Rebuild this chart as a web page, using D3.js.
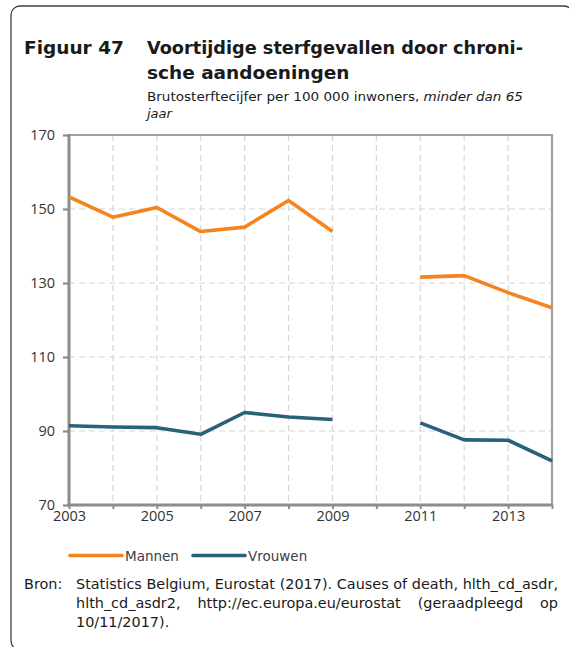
<!DOCTYPE html>
<html><head><meta charset="utf-8">
<script src="https://cdn.jsdelivr.net/npm/d3@7"></script>
<style>
html,body{margin:0;padding:0;background:#fff;}
svg{display:block;}
</style></head>
<body>
<svg id="c" width="569" height="647"></svg>
<script>
const years = [2003,2004,2005,2006,2007,2008,2009,2010,2011,2012,2013,2014];
const mannen = [153.3,147.8,150.4,143.9,145.1,152.3,143.9,null,131.6,132.0,127.4,123.3];
const vrouwen = [91.4,91.1,90.9,89.1,95.0,93.8,93.1,null,92.2,87.6,87.5,81.9];
const seriesNames = ["Mannen","Vrouwen"];
const seriesColors = ["#f5841f","#28627a"];
const yTicks = [70,90,110,130,150,170];
const xTickLabels = [2003,2005,2007,2009,2011,2013];
const titleNum = "Figuur 47";
const titleLines = ["Voortijdige sterfgevallen door chroni-","sche aandoeningen"];
const subtitle = ["Brutosterftecijfer per 100 000 inwoners, ","minder dan 65","jaar"];
const sourceLabel = "Bron:";
const sourceLines = ["Statistics Belgium, Eurostat (2017). Causes of death, hlth_cd_asdr,",
  "hlth_cd_asdr2, http://ec.europa.eu/eurostat (geraadpleegd op",
  "10/11/2017)."];

const svg = d3.select("#c");
const F = "'DejaVu Sans', Verdana, sans-serif";
const TF = "'Open Sans', sans-serif";

// frame
svg.append("rect").attr("x",11).attr("y",6).attr("width",562).attr("height",644)
  .attr("rx",9).attr("fill","none").attr("stroke","#404040").attr("stroke-width",1.3);

// title
svg.append("text").attr("x",24).attr("y",54).attr("font-family",F).attr("font-weight","bold")
  .attr("font-size",18.5).attr("fill","#1a1a1a").text(titleNum);
titleLines.forEach((t,i)=>{
  const el = svg.append("text").attr("x",147).attr("y",54+25*i).attr("font-family",F).attr("font-weight","bold")
    .attr("font-size",18.5).attr("fill","#1a1a1a").text(t);
  if(i===0) el.attr("textLength",376).attr("lengthAdjust","spacingAndGlyphs");
});
const st = svg.append("text").attr("x",147).attr("y",101).attr("font-family",F).attr("font-size",13).attr("fill","#1a1a1a")
  .attr("textLength",376).attr("lengthAdjust","spacingAndGlyphs");
st.append("tspan").text(subtitle[0]);
st.append("tspan").attr("font-style","italic").text(subtitle[1]);
svg.append("text").attr("x",147).attr("y",118).attr("font-family",F).attr("font-size",13)
  .attr("font-style","italic").attr("fill","#1a1a1a").text(subtitle[2]);

// scales
const x = d3.scaleLinear().domain([2003,2014]).range([69,552]);
const y = d3.scaleLinear().domain([70,170]).range([505,135]);

// grid
const g = svg.append("g");
g.selectAll("line.vg").data(years.slice(1,-1)).join("line")
  .attr("x1",d=>x(d)).attr("x2",d=>x(d)).attr("y1",y(170)).attr("y2",y(70))
  .attr("stroke","#d6d6d6").attr("stroke-width",1.2).attr("stroke-dasharray","6,4");
g.selectAll("line.hg").data(yTicks.slice(1,-1)).join("line")
  .attr("x1",x(2003)).attr("x2",x(2014)).attr("y1",d=>y(d)).attr("y2",d=>y(d))
  .attr("stroke","#d6d6d6").attr("stroke-width",1.2).attr("stroke-dasharray","6,4");

// top and right frame
svg.append("line").attr("x1",x(2003)).attr("x2",x(2014)+1).attr("y1",y(170)).attr("y2",y(170))
  .attr("stroke","#a0a0a0").attr("stroke-width",2.2);
svg.append("line").attr("x1",x(2014)).attr("x2",x(2014)).attr("y1",y(170)).attr("y2",y(70))
  .attr("stroke","#a0a0a0").attr("stroke-width",2.2);

// axes
const yAxis = d3.axisLeft(y).tickValues(yTicks).tickSize(6).tickPadding(8).tickFormat(d3.format("d"));
const ya = svg.append("g").attr("transform",`translate(${x(2003)},0)`).call(yAxis);
ya.select(".domain").remove();
ya.selectAll(".tick line").attr("stroke","#8c8c8c").attr("stroke-width",2.2);
ya.selectAll(".tick text").attr("font-family",TF).attr("font-size",14.5).attr("fill","#333");

const xAxis = d3.axisBottom(x).tickValues(years).tickSize(4).tickPadding(2)
  .tickFormat(d=>xTickLabels.includes(d)?String(d):"");
const xa = svg.append("g").attr("transform",`translate(0,${y(70)})`).call(xAxis);
xa.select(".domain").remove();
xa.selectAll(".tick line").attr("stroke","#8c8c8c").attr("stroke-width",2);
xa.selectAll(".tick text").attr("font-family",TF).attr("font-size",14.5).attr("fill","#333");

svg.append("line").attr("x1",x(2003)).attr("x2",x(2003)).attr("y1",y(170)-1).attr("y2",y(70)+1.5)
  .attr("stroke","#8c8c8c").attr("stroke-width",3);
svg.append("line").attr("x1",x(2003)-1.5).attr("x2",x(2014)+1).attr("y1",y(70)).attr("y2",y(70))
  .attr("stroke","#8c8c8c").attr("stroke-width",3);

// lines
const line = d3.line().defined(d=>d[1]!=null).x(d=>x(d[0])).y(d=>y(d[1]));
[mannen,vrouwen].forEach((s,i)=>{
  svg.append("path").datum(years.map((yr,j)=>[yr,s[j]])).attr("d",line)
    .attr("fill","none").attr("stroke",seriesColors[i]).attr("stroke-width",3.6)
    .attr("stroke-linejoin","round");
});

// legend
const lx = [70,193];
seriesNames.forEach((n,i)=>{
  svg.append("line").attr("x1",lx[i]).attr("x2",lx[i]+52).attr("y1",555.5).attr("y2",555.5)
    .attr("stroke",seriesColors[i]).attr("stroke-width",3.6).attr("stroke-linecap","round");
  svg.append("text").attr("x",lx[i]+55).attr("y",560.5).attr("font-family",F).attr("font-size",13.5)
    .attr("fill","#404040").text(n);
});

// source
const sx0 = 76, sx1 = 558;
const probe = svg.append("text").attr("font-family",F).attr("font-size",13).text(sourceLines[0]);
const pw = probe.node().getComputedTextLength();
probe.remove();
const sfs = Math.min(14.5, 13*(sx1-sx0)/pw);
svg.append("text").attr("x",24).attr("y",589).attr("font-family",F).attr("font-size",sfs).attr("fill","#1a1a1a").text(sourceLabel);
sourceLines.forEach((ln,i)=>{
  const yy = 589+19*i;
  const words = ln.split(" ");
  if(i===sourceLines.length-1){
    svg.append("text").attr("x",sx0).attr("y",yy).attr("font-family",F).attr("font-size",sfs).attr("fill","#1a1a1a").text(ln);
    return;
  }
  const els = words.map(w=>svg.append("text").attr("y",yy).attr("font-family",F).attr("font-size",sfs).attr("fill","#1a1a1a").text(w));
  const ws = els.map(e=>e.node().getComputedTextLength());
  const total = d3.sum(ws);
  let sc = 1;
  if(total > (sx1-sx0-3*(words.length-1))){ sc = (sx1-sx0-3*(words.length-1))/total; }
  const gap = (sx1-sx0-total*sc)/(words.length-1);
  let cx = sx0;
  els.forEach((e,k)=>{
    e.attr("x",cx);
    if(sc<1) e.attr("textLength",ws[k]*sc).attr("lengthAdjust","spacingAndGlyphs");
    cx += ws[k]*sc+gap;
  });
});
</script>
</body></html>
